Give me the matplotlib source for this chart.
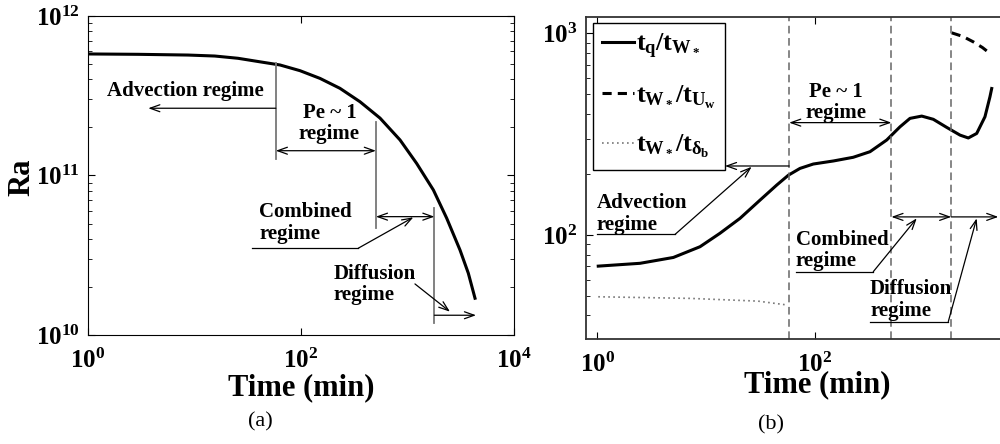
import matplotlib
matplotlib.use("Agg")
import matplotlib.pyplot as plt

plt.rcParams['font.family'] = ['Liberation Serif', 'DejaVu Serif']
plt.rcParams['font.weight'] = 'bold'
plt.rcParams['axes.labelweight'] = 'bold'
plt.rcParams['mathtext.fontset'] = 'custom'
plt.rcParams['mathtext.rm'] = 'Liberation Serif:bold'
plt.rcParams['mathtext.it'] = 'Liberation Serif:bold'
plt.rcParams['mathtext.bf'] = 'Liberation Serif:bold'

# (a) Rayleigh number vs time
t_ra = [1, 2.95, 8.69, 15.5, 25.6, 41.2, 63.5, 97.9, 151, 232, 358, 552, 851,
        1219, 1750, 2333, 3112, 3724, 4305]
ra = [5.78e11, 5.75e11, 5.69e11, 5.61e11, 5.43e11, 5.16e11, 4.93e11, 4.54e11,
      4.06e11, 3.52e11, 2.90e11, 2.29e11, 1.67e11, 1.19e11, 8.11e10, 5.40e10,
      3.41e10, 2.44e10, 1.70e10]

# (b) time-scale ratios
t_q = [1.02, 2.47, 5.00, 8.79, 13.4, 20.5, 31.3, 44.6, 57.0, 72.9, 96.6, 148,
       225, 321, 457, 605, 748, 959, 1225, 1626, 2158, 2570, 3069, 3656, 4064,
       4217]
r_q = [70.1, 72.4, 77.4, 87.5, 102, 121, 149, 177, 198, 214, 225, 233,
       243, 259, 296, 344, 379, 389, 375, 342, 313, 303, 319, 386, 485, 533]
t_u = [1807, 2291, 2858, 3467, 4064]
r_u = [1007, 966, 908, 851, 796]
t_d = [1.02, 7.11, 30, 55.1]
r_d = [49.4, 48.5, 47.0, 45.0]

t_bounds = [58, 505, 1790]

fig = plt.figure(figsize=(10, 4.44), dpi=100)

head = '->,head_length=0.7,head_width=0.25'
head2 = '<->,head_length=0.7,head_width=0.25'
arr = dict(lw=0.9, color='k', shrinkA=0, shrinkB=0)

# ---------------- panel (a)
ax1 = fig.add_axes([0.088, 0.2455, 0.426, 0.7185])
ax1.plot(t_ra, ra, color='k', lw=2.2)
ax1.set_xscale('log')
ax1.set_yscale('log')
ax1.set_xlim(1, 1e4)
ax1.set_ylim(1e10, 1e12)
ax1.set_xticks([1, 1e2, 1e4])
ax1.set_xticklabels([r'$10^{0}$', r'$10^{2}$', r'$10^{4}$'])
ax1.set_yticks([1e10, 1e11, 1e12])
ax1.set_yticklabels([r'$10^{10}$', r'$10^{11}$', r'$10^{12}$'])
ax1.xaxis.set_minor_locator(matplotlib.ticker.NullLocator())
ax1.yaxis.set_minor_locator(matplotlib.ticker.LogLocator(subs=range(2, 10)))
ax1.yaxis.set_minor_formatter(matplotlib.ticker.NullFormatter())
ax1.tick_params(which='both', direction='in', top=True, right=True, labelsize=18)
ax1.tick_params(which='major', length=5)
ax1.tick_params(axis='x', pad=10)
ax1.tick_params(axis='y', pad=6)
ax1.tick_params(which='minor', length=3)
ax1.set_xlabel('Time (min)', fontsize=22)
ax1.xaxis.label.set_verticalalignment('center')
ax1.xaxis.set_label_coords(0.5, -0.165)
ax1.set_ylabel('Ra', fontsize=22)
ax1.yaxis.label.set_verticalalignment('center')
ax1.yaxis.set_label_coords(-0.155, 0.495)

# regime boundaries (short grey lines)
vlines_a = [(5.07e11, 1.27e11), (2.16e11, 4.69e10), (6.25e10, 1.19e10)]
for tb, (y0, y1) in zip(t_bounds, vlines_a):
    ax1.plot([tb, tb], [y0, y1], color='#777777', lw=1.3)

ax1.annotate('', xy=(3.68, 2.64e11), xytext=(t_bounds[0], 2.64e11),
             arrowprops=dict(arrowstyle=head, **arr))
ax1.annotate('', xy=(t_bounds[1], 1.43e11), xytext=(t_bounds[0], 1.43e11),
             arrowprops=dict(arrowstyle=head2, **arr))
ax1.annotate('', xy=(t_bounds[2], 5.52e10), xytext=(t_bounds[1], 5.52e10),
             arrowprops=dict(arrowstyle=head2, **arr))
ax1.annotate('', xy=(4400, 1.33e10), xytext=(t_bounds[2], 1.33e10),
             arrowprops=dict(arrowstyle=head, **arr))
ax1.plot([34.4, 345], [3.50e10, 3.50e10], color='k', lw=0.9)
ax1.annotate('', xy=(1135, 5.47e10), xytext=(345, 3.50e10),
             arrowprops=dict(arrowstyle=head, **arr))
ax1.annotate('', xy=(2506, 1.40e10), xytext=(1175, 2.09e10),
             arrowprops=dict(arrowstyle=head, **arr))

ax1.text(8.15, 3.40e11, 'Advection regime', fontsize=15, ha='center', va='center')
ax1.text(185, 2.12e11, 'Pe ~ 1\nregime', fontsize=15, ha='center', va='center',
         linespacing=1.1)
ax1.text(40.6, 5.05e10, 'Combined\nregime', fontsize=15, ha='left', va='center',
         linespacing=1.1)
ax1.text(201, 2.08e10, 'Diffusion\nregime', fontsize=15, ha='left', va='center',
         linespacing=1.1)

# ---------------- panel (b)
ax2 = fig.add_axes([0.586, 0.2365, 0.4465, 0.725])
ax2.plot(t_q, r_q, color='k', lw=2.2, label=r'$t_q/t_{W_*}$')
ax2.plot(t_u, r_u, color='k', lw=2.2, ls=(0, (3, 2)), label=r'$t_{W_*}/t_{U_w}$')
ax2.plot(t_d, r_d, color='#777777', lw=1.2, ls=(0, (1, 2)),
         label=r'$t_{W_*}/t_{\delta_b}$')
ax2.set_xscale('log')
ax2.set_yscale('log')
ax2.set_xlim(0.787, 1e4)
ax2.set_ylim(30.5, 1205)
ax2.set_xticks([1, 1e2])
ax2.set_xticklabels([r'$10^{0}$', r'$10^{2}$'])
ax2.set_yticks([1e2, 1e3])
ax2.set_yticklabels([r'$10^{2}$', r'$10^{3}$'])
ax2.xaxis.set_minor_locator(matplotlib.ticker.NullLocator())
ax2.yaxis.set_minor_locator(matplotlib.ticker.LogLocator(subs=range(2, 10)))
ax2.yaxis.set_minor_formatter(matplotlib.ticker.NullFormatter())
ax2.tick_params(which='both', direction='in', top=True, right=True, labelsize=18)
ax2.tick_params(which='major', length=5)
ax2.tick_params(axis='x', pad=10)
ax2.tick_params(axis='y', pad=6)
ax2.tick_params(which='minor', length=3)
for sp in ax2.spines.values():
    sp.set_linewidth(1.3)
    sp.set_color('#333333')
ax2.set_xlabel('Time (min)', fontsize=22)
ax2.xaxis.label.set_verticalalignment('center')
ax2.xaxis.set_label_coords(0.517, -0.143)

for tb in t_bounds:
    ax2.axvline(tb, color='#666666', lw=1.1, ls=(0, (5, 3)))

ax2.annotate('', xy=(14.9, 220), xytext=(t_bounds[0], 220),
             arrowprops=dict(arrowstyle=head, **arr))
ax2.annotate('', xy=(t_bounds[1], 361), xytext=(t_bounds[0], 361),
             arrowprops=dict(arrowstyle=head2, **arr))
ax2.annotate('', xy=(t_bounds[2], 123), xytext=(t_bounds[1], 123),
             arrowprops=dict(arrowstyle=head2, **arr))
ax2.annotate('', xy=(4850, 123), xytext=(t_bounds[2], 123),
             arrowprops=dict(arrowstyle=head, **arr))
ax2.plot([0.987, 5.18], [100.7, 100.7], color='k', lw=0.9)
ax2.annotate('', xy=(26.2, 218), xytext=(5.18, 100.7),
             arrowprops=dict(arrowstyle=head, **arr))
ax2.plot([67, 344], [65.8, 65.8], color='k', lw=0.9)
ax2.annotate('', xy=(863, 121), xytext=(344, 65.8),
             arrowprops=dict(arrowstyle=head, **arr))
ax2.plot([321, 1683], [37.2, 37.2], color='k', lw=0.9)
ax2.annotate('', xy=(3069, 121), xytext=(1683, 37.2),
             arrowprops=dict(arrowstyle=head, **arr))

ax2.text(0.987, 127, 'Advection\nregime', fontsize=15, ha='left', va='center',
         linespacing=1.1)
ax2.text(155, 454, 'Pe ~ 1\nregime', fontsize=15, ha='center', va='center',
         linespacing=1.1)
ax2.text(67, 83.8, 'Combined\nregime', fontsize=15, ha='left', va='center',
         linespacing=1.1)
ax2.text(321, 47.6, 'Diffusion\nregime', fontsize=15, ha='left', va='center',
         linespacing=1.1)

leg = ax2.legend(loc='upper left', bbox_to_anchor=(0.015, 0.982), borderaxespad=0,
                 fontsize=19, handlelength=1.2, handletextpad=0.1,
                 labelspacing=0.85, fancybox=False, framealpha=1,
                 edgecolor='k', borderpad=0.35)
leg.get_frame().set_linewidth(1.0)

fig.text(0.260, 1 - 421.7 / 444, '(a)', fontsize=16, fontweight='normal',
         ha='center', va='center')
fig.text(0.7707, 1 - 425 / 444, '(b)', fontsize=16, fontweight='normal',
         ha='center', va='center')

fig.savefig('out.png', dpi=100)
